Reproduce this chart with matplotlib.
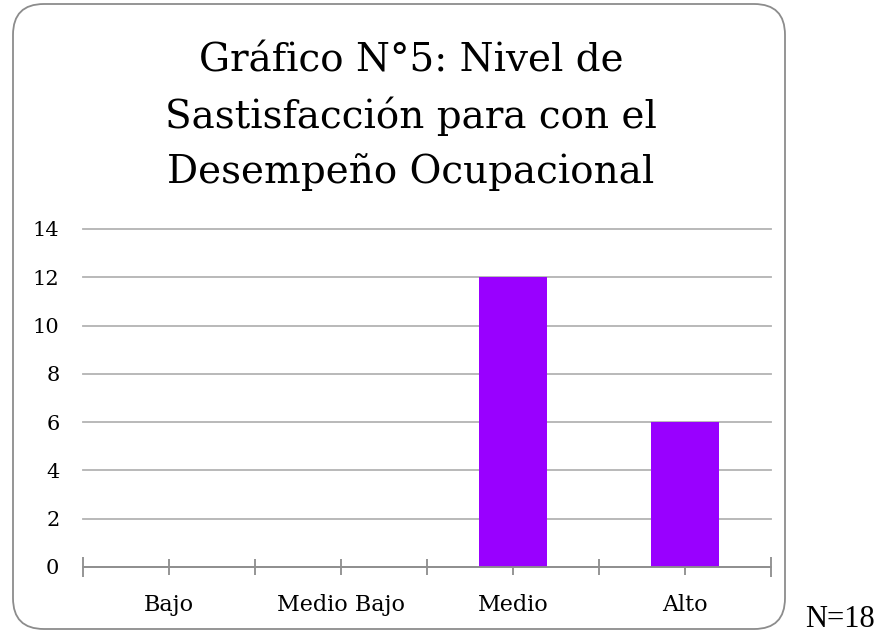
import matplotlib.pyplot as plt
from matplotlib.patches import FancyBboxPatch

categories = ['Bajo', 'Medio Bajo', 'Medio', 'Alto']
values = [0, 0, 12, 6]
yticks = [0, 2, 4, 6, 8, 10, 12, 14]
title_lines = ['Gráfico N°5: Nivel de', 'Sastisfacción para con el',
               'Desempeño Ocupacional']

W, H = 881, 634
fig = plt.figure(figsize=(W / 100, H / 100), dpi=100)
plt.rcParams['font.family'] = ['DejaVu Serif']

# rounded frame around the chart
box = FancyBboxPatch((13 / W, 5 / H), (785 - 13) / W, (630 - 5) / H,
                     boxstyle='round,pad=0,rounding_size=0.035',
                     transform=fig.transFigure, facecolor='white',
                     edgecolor='#8c8c8c', linewidth=1.3, mutation_aspect=W / H,
                     zorder=-5)
fig.patches.append(box)

ax = fig.add_axes([83 / W, (H - 567) / H, (771 - 83) / W, (567 - 229) / H])
ax.patch.set_alpha(0)
x = list(range(len(categories)))
ax.bar(x, values, width=0.4, color='#9900ff', zorder=3)

ax.set_xlim(-0.5, len(categories) - 0.5)
ax.set_ylim(0, 14)
ax.set_yticks(yticks)
ax.yaxis.grid(True, color='#b3b3b3', linewidth=1.3)
for gl in ax.get_ygridlines():
    gl.set_clip_on(False)
ax.set_axisbelow(True)
for s in ['top', 'right', 'left']:
    ax.spines[s].set_visible(False)
ax.spines['bottom'].set_color('#8c8c8c')
ax.spines['bottom'].set_linewidth(1.3)
ax.spines['bottom'].set_zorder(4)
ax.tick_params(axis='y', length=0, pad=17, labelsize=15)

# ticks at centers and boundaries
ax.set_xticks([i - 0.5 for i in range(len(categories) + 1)])
ax.set_xticklabels([])
ax.set_xticks(x, minor=True)
ax.set_xticklabels(categories, minor=True)
ax.tick_params(axis='x', which='both', direction='inout', length=11,
               color='#8c8c8c', width=1.3)
ax.tick_params(axis='x', which='minor', pad=14, labelsize=16)
ticks = ax.xaxis.get_major_ticks()
for t in (ticks[0], ticks[-1]):
    t.tick1line.set_markersize(15)

for line, yb in zip(title_lines, [72, 128, 183]):
    fig.text(411 / W, 1 - yb / H, line, ha='center', va='baseline', fontsize=28)
fig.text(840 / W, 1 - 627 / H, 'N=18', ha='center', va='baseline', fontsize=22,
         family='Liberation Serif')

fig.savefig('out.png', dpi=100)
